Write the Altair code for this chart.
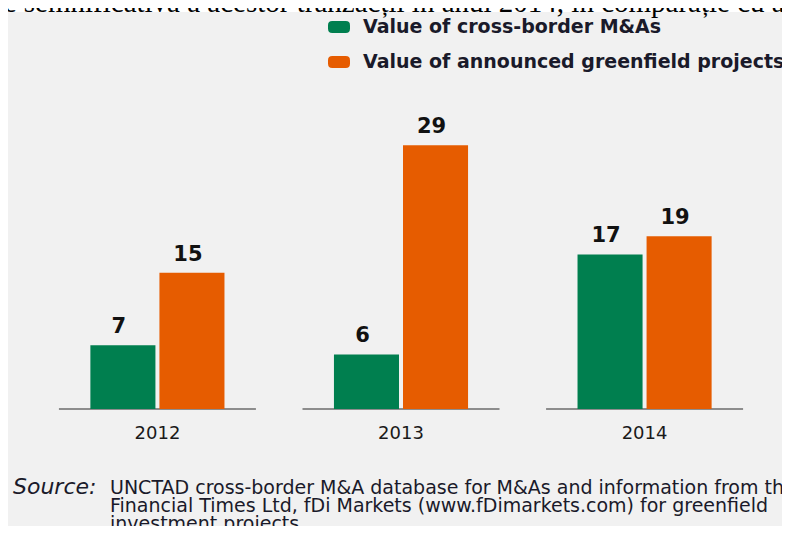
import altair as alt
import pandas as pd

years = ["2012", "2013", "2014"]
series = ["Value of cross-border M&As", "Value of announced greenfield projects"]
ma_values = [7, 6, 17]
greenfield_values = [15, 29, 19]
colors = ["#007f4f", "#e65c00"]

top_text = "re semnificativă a acestor tranzacții în anul 2014, în comparație cu anul"
source_label = "Source:"
source_lines = [
    "UNCTAD cross-border M&A database for M&As and information from the",
    "Financial Times Ltd, fDi Markets (www.fDimarkets.com) for greenfield",
    "investment projects.",
]

rows = []
for i, y in enumerate(years):
    rows.append({"year": y, "series": series[0], "value": ma_values[i]})
    rows.append({"year": y, "series": series[1], "value": greenfield_values[i]})
df = pd.DataFrame(rows)

FONT = "DejaVu Sans"
W, H = 682, 300

xenc = alt.X("year:N", sort=years, title=None,
             scale=alt.Scale(paddingInner=0.2, paddingOuter=0),
             axis=alt.Axis(labelAngle=0, domain=False, ticks=False, labelPadding=15,
                           labelFontSize=18, labelFont=FONT, labelColor="#1a1a1a"))
xoff = alt.XOffset("series:N", sort=series,
                   scale=alt.Scale(domain=series, paddingInner=0.058, paddingOuter=0.44))
yenc = alt.Y("value:Q", scale=alt.Scale(domain=[0, 33]), axis=None)

rounded = ("M-0.62,-0.55L0.62,-0.55Q1,-0.55,1,-0.17L1,0.17Q1,0.55,0.62,0.55"
           "L-0.62,0.55Q-1,0.55,-1,0.17L-1,-0.17Q-1,-0.55,-0.62,-0.55Z")

bars = alt.Chart(df).mark_bar().encode(
    x=xenc, xOffset=xoff, y=yenc,
    color=alt.Color("series:N", sort=series,
                    scale=alt.Scale(domain=series, range=colors),
                    legend=alt.Legend(title=None, orient="none", legendX=268, legendY=-93,
                                      symbolType=rounded, symbolSize=484, symbolStrokeWidth=0,
                                      labelFont=FONT, labelFontSize=19, labelFontWeight="bold",
                                      labelColor="#1a1a2a", labelOffset=13, rowPadding=14,
                                      labelLimit=700, padding=0)),
)

labels = alt.Chart(df).mark_text(baseline="alphabetic", dy=-12, dx=-4, fontSize=21,
                                 fontWeight="bold", font=FONT, color="#111111").encode(
    x=xenc, xOffset=xoff, y=yenc, text=alt.Text("value:Q"))

base_df = pd.DataFrame({"year": years, "zero": [0] * len(years)})
baseline = alt.Chart(base_df).mark_tick(size=197, thickness=1.5, color="#333333").encode(
    x=xenc, y=alt.Y("zero:Q", scale=alt.Scale(domain=[0, 33]), axis=None))

white_strip = alt.Chart(pd.DataFrame({"a": [0]})).mark_rect(color="white").encode(
    x=alt.value(-60), x2=alt.value(730), y=alt.value(-101), y2=alt.value(-97))

top = alt.Chart(pd.DataFrame({"t": [top_text]})).mark_text(
    align="left", baseline="alphabetic", font="Liberation Serif", fontSize=29, color="#000000").encode(
    x=alt.value(-66), y=alt.value(-97), text="t:N")

src_label = alt.Chart(pd.DataFrame({"t": [source_label]})).mark_text(
    align="left", baseline="top", font=FONT, fontSize=22, fontStyle="italic", color="#1a1a2a").encode(
    x=alt.value(-47), y=alt.value(368), text="t:N")

src_text = alt.Chart(pd.DataFrame({"t": ["\n".join(source_lines)]})).mark_text(
    align="left", baseline="top", font=FONT, fontSize=19, lineBreak="\n", lineHeight=18,
    color="#1a1a2a").encode(
    x=alt.value(50), y=alt.value(370), text="t:N")

chart = alt.layer(white_strip, top, baseline, bars, labels, src_label, src_text).properties(
    width=W, height=H,
    padding={"left": 52, "top": 101, "right": 40, "bottom": 117},
    autosize=alt.AutoSizeParams(type="none"),
    background="#f1f1f1",
).configure_view(stroke=None)

chart.save("out.html", embed_options={"renderer": "svg", "actions": False})
